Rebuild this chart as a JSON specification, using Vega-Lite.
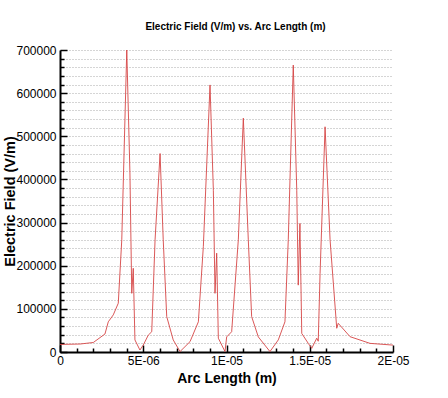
{
  "$schema": "https://vega.github.io/schema/vega-lite/v6.json",
  "width": 333,
  "height": 302,
  "autosize": {"type": "none"},
  "padding": {"left": 60, "top": 50, "right": 55, "bottom": 46},
  "background": "white",
  "config": {
    "view": {"stroke": null},
    "font": "Liberation Sans"
  },
  "title": {
    "text": "Electric Field (V/m) vs. Arc Length (m)",
    "font": "Liberation Sans",
    "fontSize": 10,
    "fontWeight": "bold",
    "color": "#000",
    "anchor": "middle",
    "dx": 9,
    "offset": 12
  },
  "data": {
    "values": [
      {"x": 0, "e": 17500},
      {"x": 1.2e-6, "e": 18500},
      {"x": 2.0e-6, "e": 22000},
      {"x": 2.7e-6, "e": 41700},
      {"x": 2.9e-6, "e": 70000},
      {"x": 3.2e-6, "e": 86000},
      {"x": 3.5e-6, "e": 113000},
      {"x": 3.71e-6, "e": 260000},
      {"x": 4.01e-6, "e": 700000},
      {"x": 4.2e-6, "e": 415000},
      {"x": 4.31e-6, "e": 136000},
      {"x": 4.4e-6, "e": 194000},
      {"x": 4.5e-6, "e": 28000},
      {"x": 4.8e-6, "e": 4600},
      {"x": 5.0e-6, "e": 16000},
      {"x": 5.3e-6, "e": 39000},
      {"x": 5.51e-6, "e": 47000},
      {"x": 5.71e-6, "e": 260000},
      {"x": 6.01e-6, "e": 460000},
      {"x": 6.2e-6, "e": 260000},
      {"x": 6.41e-6, "e": 82000},
      {"x": 6.8e-6, "e": 28000},
      {"x": 7.21e-6, "e": 1000},
      {"x": 7.81e-6, "e": 24000},
      {"x": 8.31e-6, "e": 70000},
      {"x": 8.61e-6, "e": 245000},
      {"x": 9.01e-6, "e": 619000},
      {"x": 9.21e-6, "e": 375000},
      {"x": 9.31e-6, "e": 136000},
      {"x": 9.41e-6, "e": 229000},
      {"x": 9.51e-6, "e": 32000},
      {"x": 9.91e-6, "e": 1000},
      {"x": 1.001e-5, "e": 35000},
      {"x": 1.031e-5, "e": 47000},
      {"x": 1.071e-5, "e": 260000},
      {"x": 1.101e-5, "e": 542000},
      {"x": 1.131e-5, "e": 260000},
      {"x": 1.151e-5, "e": 82000},
      {"x": 1.191e-5, "e": 35000},
      {"x": 1.261e-5, "e": 1000},
      {"x": 1.311e-5, "e": 28000},
      {"x": 1.351e-5, "e": 70000},
      {"x": 1.371e-5, "e": 260000},
      {"x": 1.401e-5, "e": 665000},
      {"x": 1.422e-5, "e": 375000},
      {"x": 1.431e-5, "e": 155000},
      {"x": 1.441e-5, "e": 298000},
      {"x": 1.452e-5, "e": 43000},
      {"x": 1.491e-5, "e": 20000},
      {"x": 1.512e-5, "e": 8500},
      {"x": 1.542e-5, "e": 32000},
      {"x": 1.551e-5, "e": 25000},
      {"x": 1.562e-5, "e": 182000},
      {"x": 1.592e-5, "e": 522000},
      {"x": 1.622e-5, "e": 260000},
      {"x": 1.662e-5, "e": 55000},
      {"x": 1.671e-5, "e": 66500},
      {"x": 1.742e-5, "e": 35500},
      {"x": 1.862e-5, "e": 20000},
      {"x": 2.0e-5, "e": 16000}
    ]
  },
  "mark": {"type": "line", "color": "#d64545", "strokeWidth": 0.9, "clip": true},
  "encoding": {
    "x": {
      "field": "x",
      "type": "quantitative",
      "scale": {"domain": [0, 2e-5], "nice": false, "zero": false},
      "axis": {
        "title": "Arc Length (m)",
        "titleFont": "Liberation Sans",
        "titleFontSize": 14,
        "titleFontWeight": "bold",
        "titleColor": "#000",
        "titlePadding": 2,
        "values": [0, 1e-6, 2e-6, 3e-6, 4e-6, 5e-6, 6e-6, 7e-6, 8e-6, 9e-6, 1e-5, 1.1e-5, 1.2e-5, 1.3e-5, 1.4e-5, 1.5e-5, 1.6e-5, 1.7e-5, 1.8e-5, 1.9e-5, 2e-5],
        "labelExpr": "round(datum.value*1e7) == 0 ? '0' : round(datum.value*1e7) == 50 ? '5E-06' : round(datum.value*1e7) == 100 ? '1E-05' : round(datum.value*1e7) == 150 ? '1.5E-05' : round(datum.value*1e7) == 200 ? '2E-05' : ''",
        "labelFont": "Liberation Sans",
        "labelFontSize": 12,
        "labelColor": "#000",
        "labelPadding": 10,
        "labelOverlap": false,
        "labelFlush": false,
        "grid": false,
        "domainColor": "#000",
        "domainWidth": 2,
        "tickColor": "#000",
        "tickWidth": 1.5,
        "tickSize": {"condition": {"test": "round(datum.value*1e7) % 50 == 0", "value": -7}, "value": -4}
      }
    },
    "y": {
      "field": "e",
      "type": "quantitative",
      "scale": {"domain": [0, 700000], "nice": false},
      "axis": {
        "title": "Electric Field (V/m)",
        "titleFont": "Liberation Sans",
        "titleFontSize": 14.5,
        "titleFontWeight": "bold",
        "titleColor": "#000",
        "titlePadding": -2,
        "values": [0, 20000, 40000, 60000, 80000, 100000, 120000, 140000, 160000, 180000, 200000, 220000, 240000, 260000, 280000, 300000, 320000, 340000, 360000, 380000, 400000, 420000, 440000, 460000, 480000, 500000, 520000, 540000, 560000, 580000, 600000, 620000, 640000, 660000, 680000, 700000],
        "labelExpr": "datum.value % 100000 == 0 ? format(datum.value, 'd') : ''",
        "labelFont": "Liberation Sans",
        "labelFontSize": 12,
        "labelColor": "#000",
        "labelPadding": 11,
        "labelOverlap": false,
        "labelFlush": false,
        "grid": true,
        "gridColor": "#aaa",
        "gridDash": [1, 2],
        "gridWidth": 1,
        "domainColor": "#000",
        "domainWidth": 2,
        "tickColor": "#000",
        "tickWidth": 1.5,
        "tickSize": {"condition": {"test": "datum.value % 100000 == 0", "value": -7}, "value": -4}
      }
    }
  }
}
